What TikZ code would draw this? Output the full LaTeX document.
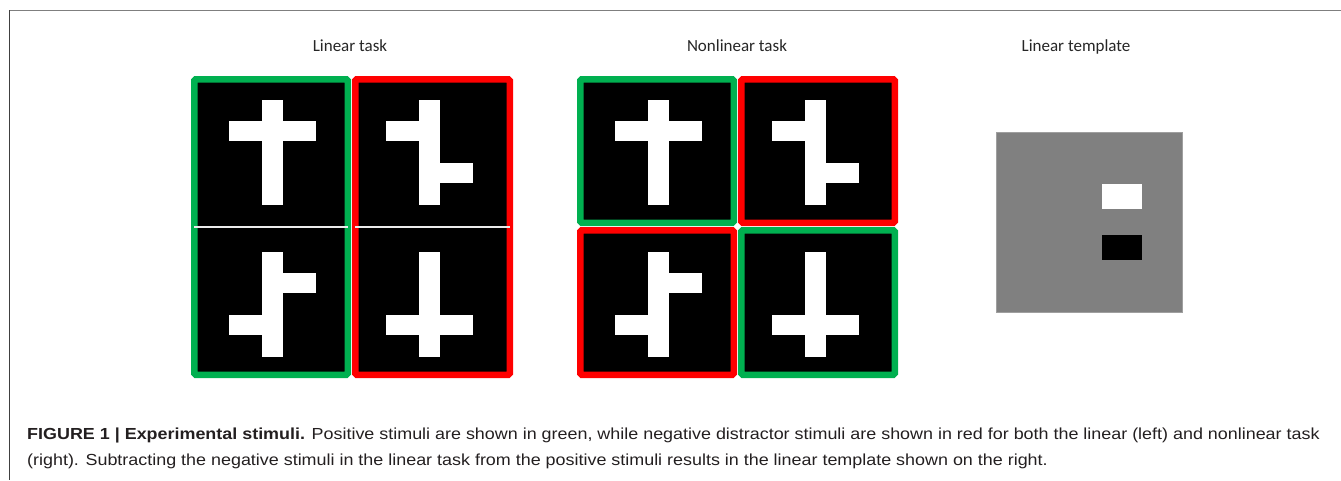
\documentclass[tikz,border=0pt]{standalone}
\usepackage{fontspec}
\setmainfont{Carlito}
\newfontfamily\capfont{Liberation Sans}
\usetikzlibrary{positioning,calc}
\definecolor{posgreen}{HTML}{00B050}
\definecolor{negred}{HTML}{FF0000}
\definecolor{tplgray}{HTML}{808080}
\definecolor{frameline}{HTML}{7F7F7F}
\definecolor{captext}{HTML}{231F20}
\tikzset{
  panel/.style={rectangle, fill=black, line width=6.5pt, inner sep=0pt, rounded corners=1.5pt},
  posbox/.style={panel, draw=posgreen},
  negbox/.style={panel, draw=negred},
  divider/.style={draw=white!92!black, line width=1.5pt, shorten <=3.25pt, shorten >=3.25pt},
  heading/.style={anchor=base, inner sep=0pt, text=black!85, font=\fontsize{17}{20}\selectfont},
  caption/.style={anchor=base west, inner sep=0pt, text=captext, font=\capfont\fontsize{16}{19}\selectfont},
  patch/.style={rectangle, inner sep=0pt, minimum width=40pt, minimum height=25pt},
  pics/stim/.style 2 args={code={
    \fill[white] (-10.5,-52.5) rectangle (10.5,52.5);
    \fill[white] (-43.5,#1-10.25) rectangle (-10.5,#1+10.25);
    \fill[white] (10.5,#2-10.25) rectangle (43.5,#2+10.25);
  }}
}
\begin{document}
\begin{tikzpicture}[x=1pt, y=-1pt]
  \useasboundingbox (0,0) rectangle (1341,480);
  % page frame
  \draw[frameline, line width=1.8pt] (9,10.5) -- (1341,10.5);
  \draw[black!75, line width=1pt] (9.3,10) -- (9.3,480);

  % headings
  \node[heading] (linhead) at (350,51) {Linear task};
  \node[heading] (nonhead) at (737,51) {Nonlinear task};
  \node[heading] (tplhead) at (1076,51) {Linear template};

  % linear task
  \node[posbox, minimum width=153.5pt, minimum height=295.5pt] (linpos) at (271,227) {};
  \node[negbox, minimum width=154.5pt, minimum height=295.5pt] (linneg) at (432.5,227) {};
  \draw[divider] (linpos.west) -- (linpos.east);
  \draw[divider] (linneg.west) -- (linneg.east);
  \pic at (272,152) {stim={-21}{-21}};
  \pic at (272,304) {stim={21}{-21}};
  \pic at (429.5,152) {stim={-21}{21}};
  \pic at (429.5,304) {stim={21}{21}};

  % nonlinear task
  \node[posbox, minimum width=153.5pt, minimum height=143.5pt] (nonTL) at (657,151) {};
  \node[negbox, minimum width=153.5pt, minimum height=143.5pt] (nonTR) at (818,151) {};
  \node[negbox, minimum width=153.5pt, minimum height=144.5pt] (nonBL) at (657,302.5) {};
  \node[posbox, minimum width=153.5pt, minimum height=144.5pt] (nonBR) at (818,302.5) {};
  \pic at (658.5,152) {stim={-21}{-21}};
  \pic at (815.5,152) {stim={-21}{21}};
  \pic at (658.5,304) {stim={21}{-21}};
  \pic at (815.5,304) {stim={21}{21}};

  % linear template
  \node[rectangle, fill=tplgray, draw=gray!75, line width=0.6pt, inner sep=0pt,
        minimum width=186pt, minimum height=180pt] (tpl) at (1089,222) {};
  \node[patch, fill=white] (tplwhite) at (1122,196.5) {};
  \node[patch, fill=black] (tplblack) at (1122,247.5) {};

  % caption
  \node[caption] (cap1) at (27,439) {\scalebox{1.12}[1]{\textbf{FIGURE 1 | Experimental stimuli.} Positive stimuli are shown in green, while negative distractor stimuli are shown in red for both the linear (left) and nonlinear task}};
  \node[caption] (cap2) at (27,465) {\scalebox{1.12}[1]{(right). Subtracting the negative stimuli in the linear task from the positive stimuli results in the linear template shown on the right.}};
\end{tikzpicture}
\end{document}
